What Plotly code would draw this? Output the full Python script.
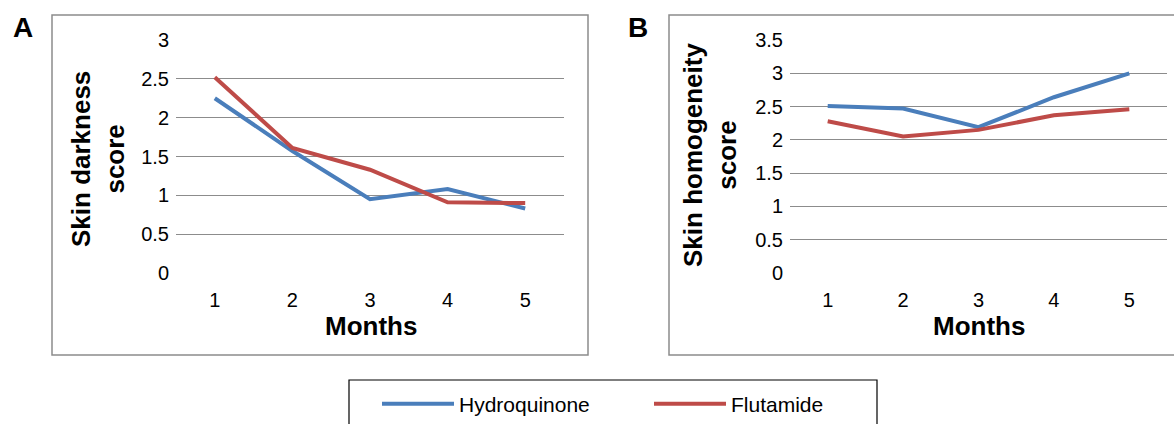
import plotly.graph_objects as go

months = [1, 2, 3, 4, 5]
tick_labels = ["1", "2", "3", "4", "5"]

darkness_hydroquinone = [2.25, 1.57, 0.95, 1.08, 0.83]
darkness_flutamide = [2.52, 1.61, 1.33, 0.91, 0.90]

homog_hydroquinone = [2.51, 2.47, 2.19, 2.64, 3.00]
homog_flutamide = [2.28, 2.05, 2.15, 2.37, 2.46]

W, H = 1174, 424
BLUE = "#4A7EBB"
RED = "#BE4B48"
GRID = "#8C8C8C"
FONT = "Liberation Sans, Arial, sans-serif"
LW = 4


def px(x):
    return x / W


def py(y):
    return 1 - y / H


fig = go.Figure()

fig.add_trace(go.Scatter(x=months, y=darkness_hydroquinone, mode="lines", name="Hydroquinone",
                         line=dict(color=BLUE, width=LW), xaxis="x", yaxis="y", legendgroup="h"))
fig.add_trace(go.Scatter(x=months, y=darkness_flutamide, mode="lines", name="Flutamide",
                         line=dict(color=RED, width=LW), xaxis="x", yaxis="y", legendgroup="f"))
fig.add_trace(go.Scatter(x=months, y=homog_hydroquinone, mode="lines", name="Hydroquinone",
                         line=dict(color=BLUE, width=LW), xaxis="x2", yaxis="y2", legendgroup="h",
                         showlegend=False))
fig.add_trace(go.Scatter(x=months, y=homog_flutamide, mode="lines", name="Flutamide",
                         line=dict(color=RED, width=LW), xaxis="x2", yaxis="y2", legendgroup="f",
                         showlegend=False))

tickfont = dict(family=FONT, size=20, color="#000000")
ydom = [py(273), py(40)]

xcommon = dict(range=[0.5, 5.5], tickmode="array", tickvals=months, ticktext=tick_labels,
               showgrid=False, zeroline=False, showline=False, ticks="", tickfont=tickfont,
               ticklabelstandoff=13, fixedrange=True)
ycommon = dict(showgrid=True, gridcolor=GRID, gridwidth=1.3, zeroline=False, showline=False,
               ticks="", tickfont=tickfont, ticklabelstandoff=6, fixedrange=True)

fig.update_layout(
    width=W, height=H,
    margin=dict(l=0, r=0, t=0, b=0, autoexpand=False),
    paper_bgcolor="white", plot_bgcolor="white",
    font=dict(family=FONT, color="#000000"),
    xaxis=dict(domain=[px(176), px(564)], anchor="y", **xcommon),
    yaxis=dict(domain=ydom, anchor="x", range=[0, 3.0], dtick=0.5, **ycommon),
    xaxis2=dict(domain=[px(790), px(1167)], anchor="y2", **xcommon),
    yaxis2=dict(domain=ydom, anchor="x2", range=[0, 3.5], dtick=0.5, **ycommon),
    showlegend=True,
    legend=dict(orientation="h", x=px(377), y=py(404), xanchor="left", yanchor="middle",
                font=dict(family=FONT, size=21, color="#000000"),
                entrywidth=185, entrywidthmode="pixels", itemwidth=72,
                bgcolor="rgba(0,0,0,0)", borderwidth=0),
    shapes=[
        dict(type="rect", xref="paper", yref="paper", x0=px(52), x1=px(588), y0=py(355), y1=py(15),
             line=dict(color="#8C8C8C", width=1.5), layer="below"),
        dict(type="rect", xref="paper", yref="paper", x0=px(669), x1=px(1180), y0=py(355), y1=py(15),
             line=dict(color="#8C8C8C", width=1.5), layer="below"),
        dict(type="rect", xref="paper", yref="paper", x0=px(349), x1=px(877), y0=py(440), y1=py(380),
             line=dict(color="#000000", width=1.2), layer="below"),
    ],
    annotations=[
        dict(text="<b>A</b>", xref="paper", yref="paper", x=px(23), y=py(28), showarrow=False,
             font=dict(family=FONT, size=28), xanchor="center", yanchor="middle"),
        dict(text="<b>B</b>", xref="paper", yref="paper", x=px(638), y=py(28), showarrow=False,
             font=dict(family=FONT, size=28), xanchor="center", yanchor="middle"),
        dict(text="<b>Skin darkness<br>score</b>", xref="paper", yref="paper", x=px(98), y=py(159),
             textangle=-90, showarrow=False, font=dict(family=FONT, size=26),
             xanchor="center", yanchor="middle"),
        dict(text="<b>Skin homogeneity<br>score</b>", xref="paper", yref="paper", x=px(710), y=py(155),
             textangle=-90, showarrow=False, font=dict(family=FONT, size=26),
             xanchor="center", yanchor="middle"),
        dict(text="<b>Months</b>", xref="paper", yref="paper", x=px(371), y=py(326), showarrow=False,
             font=dict(family=FONT, size=26), xanchor="center", yanchor="middle"),
        dict(text="<b>Months</b>", xref="paper", yref="paper", x=px(979), y=py(326), showarrow=False,
             font=dict(family=FONT, size=26), xanchor="center", yanchor="middle"),
    ],
)

fig.write_html("out.html", config={"displayModeBar": False},
               post_script="document.body.style.margin='0px';")
